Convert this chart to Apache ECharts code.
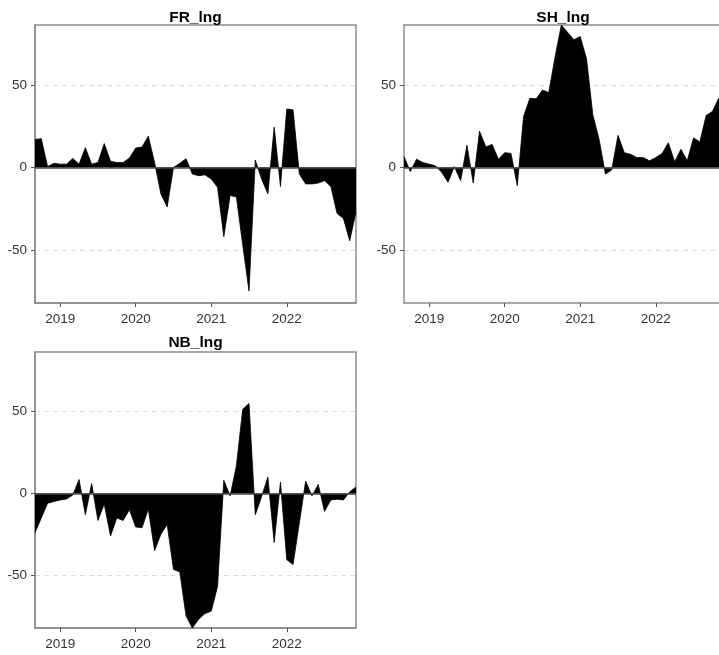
<!DOCTYPE html>
<html>
<head>
<meta charset="utf-8">
<script src="https://cdn.jsdelivr.net/npm/echarts@6/dist/echarts.min.js"></script>
<style>html,body{margin:0;padding:0;background:#fff;}#c{width:719px;height:655px;}</style>
</head>
<body>
<div id="c"></div>
<script>
// Monthly observations, Sep 2018 .. Dec 2022
var startYear = 2018, startMonth = 9, nMonths = 52;
var tickYears = [2019, 2020, 2021, 2022];
var yTicks = [-50, 0, 50];
var panelTitles = ['FR_lng', 'SH_lng', 'NB_lng'];

var FR_lng = [17, 17.5, 0.5, 2.5, 2, 2, 5.5, 2, 12, 2, 3, 14.5, 3.8, 3, 3, 5.7, 11.8, 12.4, 19, 3,
  -16, -24, 0, 2.5, 5.3, -4, -5, -4.5, -7, -12, -42, -17, -18, -47, -75, 4.5, -7, -16, 24.5, -11.5,
  35.5, 35, -4, -10, -10, -9.5, -8, -11.5, -28, -31, -44.5, -27];
var SH_lng = [6.7, -2.5, 5, 3, 2, 1, -3, -9, 0.5, -8, 13.5, -9.5, 22, 12.5, 14, 5, 9, 8.5, -11, 31,
  42, 41.7, 47, 45.5, 67, 86.5, 82, 77.5, 79.5, 66, 32, 17, -4, -1.5, 19.5, 9, 8, 6, 6, 4,
  6, 8.5, 15, 3.5, 11, 4, 18, 15.5, 31.5, 34, 42, 38];
var NB_lng = [-24, -15, -6, -5, -4, -3.4, -1, 8.5, -13, 6, -16.5, -6.5, -26, -15, -16.5, -10, -20.5, -21, -9.5, -35,
  -25, -19, -46.5, -48, -75, -82.3, -77, -73.5, -72, -57, 8, -1.5, 17, 51.5, 55, -13, -2, 10, -30, 7,
  -40.5, -43.5, -18, 7.5, -1.5, 5.5, -11, -4, -3.5, -4, 1, 4];

var yMin = -82.3, yMax = 86.5;

// x positions in fractional years (month k -> year + month/12)
var xs = [];
for (var k = 0; k < nMonths; k++) {
  xs.push(startYear + (startMonth - 1 + k) / 12);
}
var xMin = xs[0], xMax = xs[xs.length - 1];

var seriesData = [FR_lng, SH_lng, NB_lng];
var fullW = 321;
// SH panel is cut by the page edge: its visible width is 315 px of the full 321 px panel
var grids = [
  {left: 35, top: 25, width: 321, height: 278, titleX: 190.5, titleTop: 5, visW: 321},
  {left: 404, top: 25, width: 315, height: 278, titleX: 558, titleTop: 5, visW: 315},
  {left: 35, top: 352, width: 321, height: 276, titleX: 190.5, titleTop: 330, visW: 321}
];
var font = 'Liberation Sans, Arial, sans-serif';
var borderCol = '#8c8c8c';

var xAxes = grids.map(function (g, i) {
  return {
    type: 'value', gridIndex: i,
    min: xMin, max: xMin + (xMax - xMin) * g.visW / fullW,
    axisLine: {show: true, onZero: false, lineStyle: {color: borderCol, width: 1.5}},
    axisTick: {show: true, customValues: tickYears, length: 4, lineStyle: {color: '#555', width: 1}},
    axisLabel: {show: true, customValues: tickYears, margin: 9, fontFamily: font, fontSize: 13.5, color: '#333',
      formatter: function (v) { return String(Math.round(v)); }},
    splitLine: {show: false}
  };
});
// top border of the SH panel (its right border lies outside the page)
xAxes.push({
  type: 'value', gridIndex: 1, position: 'top', min: 0, max: 1,
  axisLine: {show: true, onZero: false, lineStyle: {color: borderCol, width: 1.5}},
  axisTick: {show: false}, axisLabel: {show: false}, splitLine: {show: false}
});

var option = {
  animation: false,
  backgroundColor: '#fff',
  title: grids.map(function (g, i) {
    return {
      text: panelTitles[i],
      left: g.titleX,
      top: g.titleTop,
      textAlign: 'center',
      textStyle: {fontFamily: font, fontSize: 15.5, fontWeight: 'bold', color: '#000'}
    };
  }),
  grid: grids.map(function (g, i) {
    return {left: g.left, top: g.top, width: g.width, height: g.height,
      show: i !== 1, borderColor: borderCol, borderWidth: 1.5, backgroundColor: 'transparent'};
  }),
  xAxis: xAxes,
  yAxis: grids.map(function (g, i) {
    return {
      type: 'value', gridIndex: i, min: yMin, max: yMax,
      axisLine: {show: true, onZero: false, lineStyle: {color: borderCol, width: 1.5}},
      axisTick: {show: true, customValues: yTicks, length: 4, lineStyle: {color: '#555', width: 1}},
      axisLabel: {show: true, customValues: yTicks, margin: 8, fontFamily: font, fontSize: 13.5, color: '#333'},
      splitLine: {show: true, lineStyle: {color: '#dcdcdc', type: [5, 4], width: 1}}
    };
  }),
  series: seriesData.map(function (vals, i) {
    return {
      type: 'line', xAxisIndex: i, yAxisIndex: i,
      data: vals.map(function (v, k) { return [xs[k], v]; }),
      showSymbol: false, symbol: 'none', clip: true,
      lineStyle: {color: '#000', width: 0.8},
      areaStyle: {color: '#000', opacity: 1, origin: 0},
      markLine: {
        silent: true, symbol: 'none', label: {show: false},
        lineStyle: {color: '#444', type: 'solid', width: 1.6},
        data: [{yAxis: 0}]
      }
    };
  })
};

var chart = echarts.init(document.getElementById('c'), null, {renderer: 'canvas'});
chart.setOption(option);
</script>
</body>
</html>
